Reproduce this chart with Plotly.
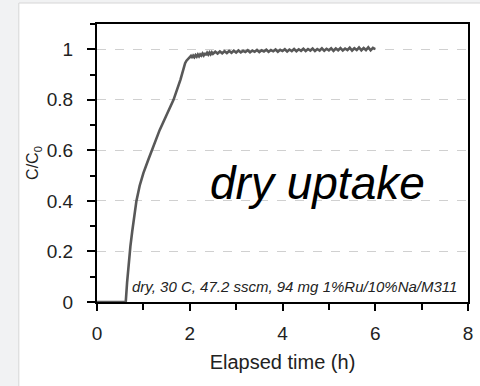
import plotly.graph_objects as go

# Rising part of the breakthrough curve
rise_t = [0.0, 0.30, 0.60, 0.62, 0.65, 0.68, 0.72, 0.76, 0.80, 0.85, 0.92, 1.00,
          1.10, 1.20, 1.35, 1.50, 1.65, 1.80, 1.86, 1.90, 1.93, 1.96]
rise_c = [0.0, 0.0, 0.0, 0.0, 0.08, 0.15, 0.22, 0.28, 0.34, 0.40, 0.46, 0.51,
          0.56, 0.61, 0.68, 0.74, 0.80, 0.88, 0.92, 0.945, 0.955, 0.962]

# Plateau (noisy) part
plat_t = [2.000, 2.025, 2.050, 2.075, 2.100, 2.125, 2.150, 2.175, 2.200, 2.225, 2.250, 2.275,
          2.300, 2.325, 2.350, 2.375, 2.400, 2.425, 2.450, 2.475, 2.500, 2.550, 2.600, 2.650,
          2.700, 2.750, 2.800, 2.850, 2.900, 2.950, 3.000, 3.050, 3.100, 3.150, 3.200, 3.250,
          3.300, 3.350, 3.400, 3.450, 3.500, 3.550, 3.600, 3.650, 3.700, 3.750, 3.800, 3.850,
          3.900, 3.950, 4.000, 4.050, 4.100, 4.150, 4.200, 4.250, 4.300, 4.350, 4.400, 4.450,
          4.500, 4.550, 4.600, 4.650, 4.700, 4.750, 4.800, 4.850, 4.900, 4.950, 5.000, 5.050,
          5.100, 5.150, 5.200, 5.250, 5.300, 5.350, 5.400, 5.450, 5.500, 5.550, 5.600, 5.650,
          5.700, 5.750, 5.800, 5.850, 5.900, 5.950, 6.000]
plat_c = [0.968, 0.974, 0.966, 0.975, 0.969, 0.977, 0.971, 0.979, 0.972, 0.980, 0.975, 0.983,
          0.976, 0.985, 0.977, 0.986, 0.979, 0.987, 0.980, 0.988, 0.982, 0.990, 0.983, 0.991,
          0.984, 0.992, 0.985, 0.993, 0.986, 0.994, 0.987, 0.995, 0.988, 0.994, 0.989, 0.996,
          0.988, 0.995, 0.990, 0.997, 0.989, 0.996, 0.991, 0.998, 0.990, 0.997, 0.992, 0.999,
          0.990, 0.998, 0.993, 1.000, 0.991, 0.999, 0.993, 1.001, 0.992, 1.000, 0.994, 1.002,
          0.993, 1.001, 0.995, 1.003, 0.993, 1.001, 0.995, 1.004, 0.994, 1.002, 0.996, 1.004,
          0.994, 1.003, 0.996, 1.005, 0.995, 1.003, 0.997, 1.006, 0.995, 1.004, 0.997, 1.007,
          0.996, 1.005, 0.997, 1.008, 0.996, 1.006, 1.001]

x_ticks = [0, 2, 4, 6, 8]
y_ticks = [0, 0.2, 0.4, 0.6, 0.8, 1.0]
y_tick_labels = ["0", "0.2", "0.4", "0.6", "0.8", "1"]

FONT = "Liberation Sans, Arial, sans-serif"

fig = go.Figure()
fig.add_trace(go.Scatter(
    x=rise_t + plat_t, y=rise_c + plat_c, mode="lines",
    line=dict(color="#585858", width=2.6), showlegend=False, hoverinfo="skip",
))

fig.update_layout(
    width=480, height=386,
    margin=dict(l=97, r=7, t=24, b=84),
    paper_bgcolor="#f1f2f3",
    plot_bgcolor="white",
    font=dict(family=FONT, color="#222222", size=19),
    shapes=[
        dict(type="rect", xref="paper", yref="paper", x0=-0.2107, x1=1.05, y0=-0.35, y1=1.0755,
             fillcolor="white", line=dict(color="#d6d6d6", width=1), layer="below"),
    ],
    annotations=[
        dict(x=4.75, y=0.47, xref="x", yref="y", text="<i>dry uptake</i>", showarrow=False,
             font=dict(family=FONT, size=46, color="black"), xanchor="center", yanchor="middle"),
        dict(x=4.26, y=0.062, xref="x", yref="y",
             text="<i>dry, 30 C, 47.2 sscm, 94 mg 1%Ru/10%Na/M311</i>", showarrow=False,
             font=dict(family=FONT, size=15, color="#222222"), xanchor="center", yanchor="middle"),
    ],
)

fig.update_xaxes(
    range=[0, 8], tickvals=x_ticks, ticks="outside", ticklen=7, tickwidth=2, tickcolor="black",
    showline=True, linecolor="black", linewidth=2, mirror=True, showgrid=False, zeroline=False,
    minor=dict(dtick=1, ticks="outside", ticklen=6, tickwidth=2, tickcolor="black", showgrid=False),
    ticklabelstandoff=6,
    title=dict(text="Elapsed time (h)", font=dict(size=20), standoff=12),
)
fig.update_yaxes(
    range=[0, 1.1], tickvals=y_ticks, ticktext=y_tick_labels, ticks="outside", ticklen=8,
    tickwidth=2, tickcolor="black",
    showline=True, linecolor="black", linewidth=2, mirror=True, zeroline=False,
    showgrid=True, gridcolor="#d0d0d0", griddash="dash", gridwidth=1,
    minor=dict(dtick=0.1, ticks="outside", ticklen=5, tickwidth=2, tickcolor="black", showgrid=False),
    ticklabelstandoff=10,
    title=dict(text="C/C<sub>0</sub>", font=dict(size=16), standoff=4),
)

fig.write_html("out.html")
